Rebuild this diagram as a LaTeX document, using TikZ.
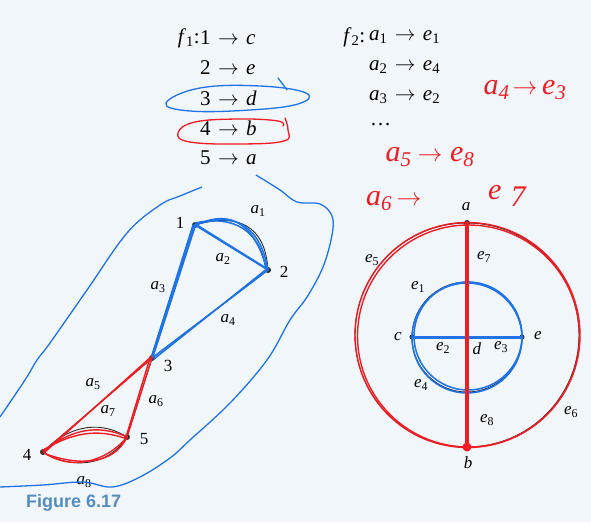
\documentclass[tikz,border=0pt]{standalone}
\usepackage{fontspec}
\setmainfont{Liberation Serif}
\newfontfamily\figfont{Liberation Sans}
\definecolor{bg}{RGB}{241,246,250}
\definecolor{pen}{RGB}{45,45,45}
\definecolor{hblue}{RGB}{30,115,230}
\definecolor{hred}{RGB}{236,30,36}
\definecolor{figblue}{RGB}{84,140,190}
\newcommand{\il}[2]{\textit{#1}\textsubscript{#2}}
\newcommand{\arw}{\hspace{0.35em}$\rightarrow$\hspace{0.35em}}
\begin{document}
\begin{tikzpicture}[x=1pt,y=-1pt,
  dot/.style={circle,fill=pen,inner sep=0pt,minimum size=6pt},
  lbl/.style={font=\fontsize{17}{17}\selectfont,inner sep=1pt},
  maptext/.style={font=\fontsize{21}{21}\selectfont,inner sep=0pt},
  hand/.style={font=\fontsize{30}{30}\selectfont\itshape,text=hred,inner sep=0pt},
  edge/.style={draw=pen,line width=0.9pt},
  bl/.style={draw=hblue,line width=1.5pt,line cap=round,line join=round},
  rd/.style={draw=hred,line width=1.4pt,line cap=round,line join=round}]
\fill[bg] (0,0) rectangle (591,522);
\useasboundingbox (0,0) rectangle (591,522);

% ---------- mapping texts ----------
\node[maptext,anchor=east] (f1) at (200,38) {\textit{f}\textsubscript{1}:};
\node[maptext,anchor=west] (m1) at (200,38) {1\arw\textit{c}};
\node[maptext,anchor=west] (m2) at (200,68) {2\arw\textit{e}};
\node[maptext,anchor=west] (m3) at (200,98) {3\arw\textit{d}};
\node[maptext,anchor=west] (m4) at (200,128) {4\arw\textit{b}};
\node[maptext,anchor=west] (m5) at (200,158) {5\arw\textit{a}};

\node[maptext,anchor=east] (f2) at (369,37) {\textit{f}\textsubscript{2}:\,};
\node[maptext,anchor=west] (g1) at (369,37) {\il{a}{1}\arw\il{e}{1}};
\node[maptext,anchor=west] (g2) at (369,67) {\il{a}{2}\arw\il{e}{4}};
\node[maptext,anchor=west] (g3) at (369,97) {\il{a}{3}\arw\il{e}{2}};
\node[maptext,anchor=west] (g4) at (370,125) {\dots};

% handwritten notes
\node[hand] (h1) at (525,90) {a\textsubscript{4}\hspace{0.1em}$\rightarrow$\hspace{0.15em}e\textsubscript{3}};
\node[hand] (h2) at (430,157) {a\textsubscript{5}\hspace{0.2em}$\rightarrow$\hspace{0.25em}e\textsubscript{8}};
\node[hand,anchor=west] (h3) at (366,201) {a\textsubscript{6}\hspace{0.15em}$\rightarrow$};
\node[hand,anchor=west] (h4) at (488,196) {e\hspace{0.3em}\raisebox{-0.25em}{7}};

% blue loop around 3 -> d, red loop around 4 -> b
\draw[bl,line width=1.3pt] plot[smooth cycle,tension=0.7] coordinates
  {(166,103) (200,88) (260,86) (306,93) (298,104) (250,110) (190,111)};
\draw[bl,line width=1.3pt] (278,78) .. controls (283,84) .. (287,90);
\draw[rd,line width=1.3pt] plot[smooth,tension=0.7] coordinates
  {(285,118) (288,130) (284,141) (240,144) (190,142) (178,133) (195,122) (240,119) (278,121) (283,126)};

% ---------- left graph ----------
\node[dot] (n1) at (195,225) {};
\node[dot] (n2) at (268,270) {};
\node[dot] (n3) at (152,358) {};
\node[dot] (n4) at (43,452) {};
\node[dot] (n5) at (127,437) {};

\draw[edge] (n1) to[out=15,in=95,looseness=1.3] (n2);
\draw[edge] (n1) -- (n2);
\draw[edge] (n1) -- (n3);
\draw[edge] (n2) -- (n3);
\draw[edge] (n3) -- (n4);
\draw[edge] (n3) -- (n5);
\draw[edge] (n4) to[out=45,in=150] (n5);
\draw[edge] (n4) to[out=-30,in=-125] (n5);

% blue overlays
\draw[bl] (n1.center) to[out=20,in=100,looseness=1.3] (n2.center);
\draw[bl] ([yshift=2pt]n1.center) to[out=12,in=98,looseness=1.2] ([xshift=-2pt]n2.center);
\draw[bl] ([xshift=1pt]n1.center) to[out=25,in=105,looseness=1.3] ([xshift=-1pt]n2.center);
\draw[bl] (n1.center) -- (n2.center);
\draw[bl] ([xshift=2pt]n1.center) -- ([xshift=-2pt,yshift=2pt]n2.center);
\draw[bl,line width=2.6pt] (n1.center) -- (n3.center);
\draw[bl] ([xshift=-2pt]n1.center) -- ([xshift=-1pt]n3.center);
\draw[bl] (n2.center) -- (n3.center);
\draw[bl] ([yshift=2pt]n2.center) -- ([xshift=2pt,yshift=-1pt]n3.center);

% red overlays
\draw[rd] (n3.center) -- (n4.center);
\draw[rd] ([yshift=2pt]n3.center) -- ([xshift=2pt]n4.center);
\draw[rd] (n3.center) -- (n5.center);
\draw[rd] ([xshift=-2pt]n3.center) -- ([xshift=-1pt]n5.center);
\draw[rd] (n4.center) to[out=40,in=155] (n5.center);
\draw[rd] ([yshift=2pt]n4.center) to[out=30,in=160] ([yshift=-2pt]n5.center);
\draw[rd] (n4.center) to[out=-35,in=-130] (n5.center);
\draw[rd] ([xshift=3pt,yshift=-2pt]n4.center) to[out=-20,in=-115] (n5.center);

% labels left
\node[lbl] (l1) at (180,223) {1};
\node[lbl] (l2) at (284,272) {2};
\node[lbl] (l3) at (168,366) {3};
\node[lbl] (l4) at (27,455) {4};
\node[lbl] (l5) at (144,439) {5};
\node[lbl] (la1) at (258,211) {\il{a}{1}};
\node[lbl] (la2) at (223,259) {\il{a}{2}};
\node[lbl] (la3) at (158,287) {\il{a}{3}};
\node[lbl] (la4) at (228,320) {\il{a}{4}};
\node[lbl] (la5) at (93,384) {\il{a}{5}};
\node[lbl] (la6) at (156,401) {\il{a}{6}};
\node[lbl] (la7) at (108,411) {\il{a}{7}};
\node[lbl] (la8) at (84,482) {\il{a}{8}};

% blue enclosing outline
\draw[hblue,line width=1.3pt] plot[smooth,tension=0.6] coordinates
  {(202,187) (180,196) (160,205) (127,233) (87,290) (50,343) (37,360) (25,380) (0,417)};
\draw[hblue,line width=1.3pt] plot[smooth,tension=0.6] coordinates
  {(256,175) (280,190) (297,202) (320,204) (332,216) (332,235) (323,267) (307,297) (290,320) (267,360) (230,403) (190,440) (170,458) (140,477) (112,487) (83,482) (43,485) (0,487)};

% ---------- right graph ----------
\coordinate (O) at (467,335);
\coordinate (I) at (467,337);
\node[dot] (a) at (467,223) {};
\node[dot] (b) at (467,447) {};
\node[dot,minimum size=5pt] (c) at (412,337) {};
\node[dot,minimum size=5pt] (d) at (467,337) {};
\node[dot,minimum size=5pt] (e) at (522,337) {};

\draw[edge] (a.center) arc[start angle=-90,end angle=-270,radius=112];
\draw[edge] (a.center) arc[start angle=-90,end angle=90,radius=112];
\draw[edge] (c.center) arc[start angle=180,end angle=360,radius=55];
\draw[edge] (c.center) arc[start angle=180,end angle=0,radius=55];
\draw[edge] (c) -- (d);
\draw[edge] (d) -- (e);
\draw[edge] (a) -- (d);
\draw[edge] (d) -- (b);

% blue overlays right
\draw[bl] ([yshift=-1pt]I) circle[radius=55];
\draw[bl] ([xshift=1pt,yshift=1pt]I) circle[radius=54];
\draw[bl,line width=3pt] (c.center) -- (e.center);

% red overlays right
\draw[rd] ([xshift=0.5pt]O) circle[radius=112.5];
\draw[rd] ([xshift=1.5pt,yshift=-1pt]O) circle[radius=111];
\draw[rd,line width=3.2pt] (a.center) -- (b.center);
\fill[hred] (b.center) circle[radius=4.5];

% labels right
\node[lbl] (la) at (466,207) {\textit{a}};
\node[lbl] (lb) at (468,463) {\textit{b}};
\node[lbl] (lc) at (398,337) {\textit{c}};
\node[lbl] (ld) at (477,349) {\textit{d}};
\node[lbl] (le) at (538,336) {\textit{e}};
\node[lbl] (le1) at (418,287) {\il{e}{1}};
\node[lbl] (le2) at (443,348) {\il{e}{2}};
\node[lbl] (le3) at (501,347) {\il{e}{3}};
\node[lbl] (le4) at (421,385) {\il{e}{4}};
\node[lbl] (le5) at (372,260) {\il{e}{5}};
\node[lbl] (le6) at (571,412) {\il{e}{6}};
\node[lbl] (le7) at (484,257) {\il{e}{7}};
\node[lbl] (le8) at (487,420) {\il{e}{8}};

% caption
\node[anchor=west,inner sep=0pt,text=figblue,font=\figfont\bfseries\fontsize{18}{18}\selectfont] (cap) at (26,503) {Figure 6.17};
\end{tikzpicture}
\end{document}
